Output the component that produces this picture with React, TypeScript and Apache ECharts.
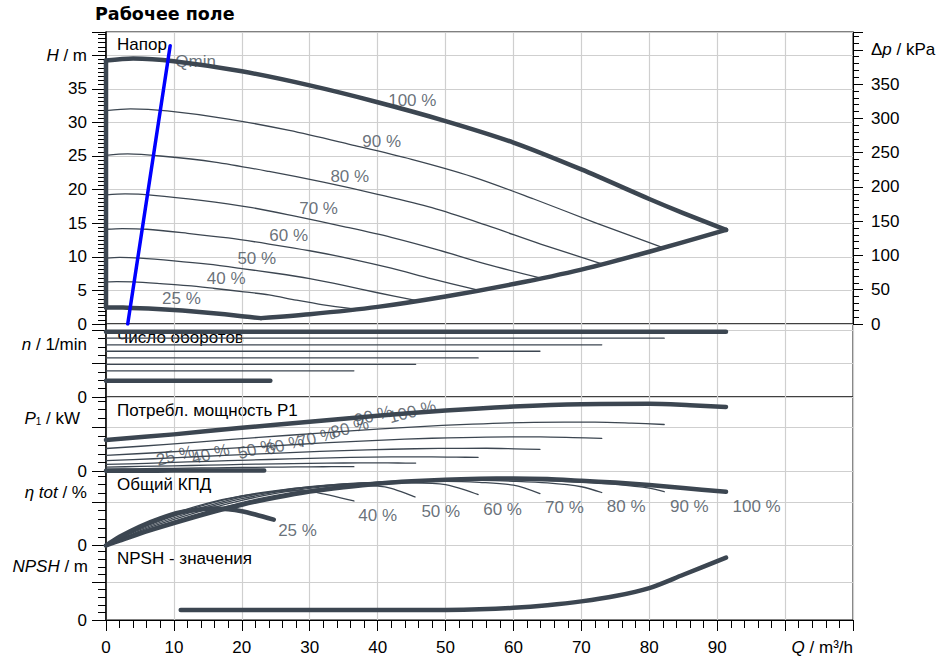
import React, { useEffect, useRef } from 'react';
import * as echarts from 'echarts';

// ---------- data ----------
const speedLabels = ['100 %', '90 %', '80 %', '70 %', '60 %', '50 %', '40 %', '25 %'];

// Head H [m] vs Q [m³/h]
const head100 = [[0, 39.2], [4, 39.5], [10, 39.1], [20, 37.6], [30, 35.5], [40, 33.0], [50, 30.2], [60, 27.0], [70, 23.0], [80, 18.6], [85, 16.5], [91.3, 14.0]];
const head90 = [[0, 31.75], [3.6, 32.0], [9, 31.7], [18, 30.5], [27, 28.8], [36, 26.7], [45, 24.5], [54, 21.9], [63, 18.6], [72, 15.1], [82.2, 11.3]];
const head80 = [[0, 25.1], [3.2, 25.3], [8, 25.0], [16, 24.1], [24, 22.7], [32, 21.1], [40, 19.3], [48, 17.3], [56, 14.7], [64, 11.9], [73, 8.96]];
const head70 = [[0, 19.2], [2.8, 19.35], [7, 19.15], [14, 18.4], [21, 17.4], [28, 16.0], [35, 14.5], [42, 12.9], [49, 11.0], [56, 8.9], [63.9, 6.86]];
const head60 = [[0, 14.1], [2.4, 14.2], [6, 14.1], [12, 13.5], [18, 12.8], [24, 11.9], [30, 10.9], [36, 9.7], [42, 8.3], [48, 6.7], [54.8, 5.04]];
const head50 = [[0, 9.8], [2, 9.9], [5, 9.8], [10, 9.4], [15, 8.9], [20, 8.25], [25, 7.55], [30, 6.75], [35, 5.75], [40, 4.65], [45.6, 3.5]];
const head40 = [[0, 6.27], [1.6, 6.32], [4, 6.26], [8, 6.0], [12, 5.7], [16, 5.28], [20, 4.83], [24, 4.32], [28, 3.55], [32, 2.85], [36.5, 2.24]];
const head25 = [[0, 2.45], [1, 2.47], [2.5, 2.44], [5, 2.35], [7.5, 2.23], [10, 2.08], [12.5, 1.9], [15, 1.69], [17.5, 1.44], [20, 1.16], [22.8, 0.875]];
const headLower = [[22.8, 0.875], [30, 1.45], [40, 2.55], [50, 4.1], [60, 5.95], [70, 8.1], [80, 10.75], [91.3, 14.0]];
const headLeft = [[0, 2.45], [0, 39.2]];
const qmin = [[3.2, 0], [9.45, 41.4]];
const headLabelPos = [[45.1, 33.3], [40.6, 27.2], [35.9, 21.9], [31.3, 17.2], [26.9, 13.1], [22.2, 9.8], [17.7, 6.8], [11.1, 3.8]];
const qminLabelPos = [13.2, 39.1];

// Speed n [1/min]
const speedValues = [2940, 2650, 2350, 2060, 1760, 1470, 1180, 735];
const speedEndQ = [91.3, 82.2, 73, 63.9, 54.8, 45.6, 36.5, 24.2];

// Power P1 [kW]
const pow100 = [[0, 3.57], [10, 4.2], [20, 4.95], [30, 5.62], [40, 6.3], [50, 6.9], [60, 7.35], [70, 7.62], [80, 7.66], [86, 7.5], [91.3, 7.3]];
const pow90 = [[0, 2.6], [9, 3.06], [18, 3.61], [27, 4.1], [36, 4.59], [45, 5.03], [54, 5.36], [63, 5.56], [72, 5.58], [77.4, 5.47], [82.2, 5.32]];
const pow80 = [[0, 1.83], [8, 2.15], [16, 2.53], [24, 2.88], [32, 3.23], [40, 3.53], [48, 3.76], [56, 3.9], [64, 3.92], [68.8, 3.84], [73, 3.74]];
const pow70 = [[0, 1.22], [7, 1.44], [14, 1.7], [21, 1.93], [28, 2.16], [35, 2.37], [42, 2.52], [49, 2.61], [56, 2.63], [60.2, 2.57], [63.9, 2.5]];
const pow60 = [[0, 0.8], [6, 0.93], [12, 1.08], [18, 1.22], [24, 1.36], [30, 1.49], [36, 1.59], [42, 1.65], [48, 1.66], [51.6, 1.62], [54.8, 1.6]];
const pow50 = [[0, 0.5], [5, 0.57], [10, 0.64], [15, 0.72], [20, 0.8], [25, 0.87], [30, 0.93], [35, 0.96], [40, 0.97], [43, 0.96], [45.6, 0.95]];
const pow40 = [[0, 0.26], [4, 0.3], [8, 0.34], [12, 0.38], [16, 0.42], [20, 0.46], [24, 0.49], [28, 0.52], [32, 0.54], [34.4, 0.55], [36.5, 0.55]];
const pow25 = [[0, 0.08], [5, 0.09], [10, 0.1], [15, 0.11], [20, 0.12], [23.3, 0.12]];
const powLabelPos = [[45.1, 6.76], [39.4, 6.31], [35.9, 4.92], [31.0, 3.82], [26.3, 3.0], [22.2, 2.55], [15.4, 1.98], [10.2, 1.79]];

// Total efficiency [%]
const eff100 = [[0, 0], [2, 4.5], [5, 11], [10, 20.5], [15, 29.5], [20, 37.5], [25, 44], [30, 49.5], [35, 53.5], [40, 56.8], [45, 59], [50, 60.5], [55, 61.3], [60, 61.6], [65, 61], [70, 59.4], [75, 57.8], [80, 55.6], [85, 52.8], [91.3, 49.3]];
const eff90 = [[0, 0], [2, 5], [5, 12.5], [10, 22.5], [15, 31.5], [20, 39.5], [25, 46], [30, 51], [35, 55], [40, 57.8], [45, 59.5], [50, 60.4], [55, 60.6], [60, 60.3], [65, 59.5], [70, 58.2], [75, 56.2], [80, 52.8], [82.2, 49.4]];
const eff80 = [[0, 0], [2, 5.5], [5, 13.5], [10, 24], [15, 33.5], [20, 41.5], [25, 47.8], [30, 52.5], [35, 56], [40, 58.3], [45, 59.6], [50, 60], [55, 59.8], [60, 59], [65, 57.5], [70, 54], [73, 48.7]];
const eff70 = [[0, 0], [2, 6], [5, 14.5], [10, 25.5], [15, 35], [20, 43], [25, 49], [30, 53.5], [35, 56.5], [40, 58.2], [45, 59], [50, 59], [55, 58], [60, 55.4], [63.9, 47.7]];
const eff60 = [[0, 0], [2, 6.5], [5, 15.5], [10, 27], [15, 36.5], [20, 44.5], [25, 50], [30, 54], [35, 56.5], [40, 57.6], [45, 57.6], [50, 56], [54.8, 46.8]];
const eff50 = [[0, 0], [2, 7], [5, 16.5], [10, 28.5], [15, 38], [20, 45.5], [25, 50.5], [30, 53.8], [35, 55.2], [40, 54.5], [42, 52.5], [45.5, 44.6]];
const eff40 = [[0, 0], [2, 7.5], [5, 17.5], [10, 29.5], [15, 39], [20, 45.5], [25, 49.5], [28, 50.3], [30.5, 49.2], [36.5, 40.9]];
const eff25 = [[0, 0], [2, 8], [5, 17.5], [8, 25], [11, 30.5], [14, 33.3], [16, 33.9], [18, 33.3], [20, 31.5], [22, 28.5], [24.7, 23.7]];
const effLabelPos = [[95.8, 35.6], [85.9, 35.6], [76.6, 35.6], [67.5, 34.7], [58.4, 33.2], [49.3, 31.0], [40, 27.3], [28.2, 14.2]];

// NPSH [m]
const npsh = [[11, 1.3], [20, 1.3], [30, 1.3], [40, 1.3], [50, 1.32], [55, 1.4], [60, 1.6], [65, 1.95], [70, 2.45], [75, 3.15], [80, 4.2], [85, 5.95], [91.3, 8.2]];

// axis ticks
const qTicks = [0, 10, 20, 30, 40, 50, 60, 70, 80, 90];

// ---------- styling ----------
const FONT = '"Liberation Sans", Arial, sans-serif';
const LINE = '#3c4651';
const LABEL = '#434d57';
const GRIDC = '#cfcfcf';

const headCurves = [head100, head90, head80, head70, head60, head50, head40, head25];
const powCurves = [pow100, pow90, pow80, pow70, pow60, pow50, pow40, pow25];
const effCurves = [eff100, eff90, eff80, eff70, eff60, eff50, eff40, eff25];

const isThick = (i: number) => i === 0 || i === 7;

function lineSeries(data: any, idx: number, width: number, smooth = true, color = LINE, z = 3) {
  return {
    type: 'line',
    xAxisIndex: idx,
    yAxisIndex: idx === 0 ? 0 : idx + 1,
    data,
    symbol: 'none',
    showSymbol: false,
    smooth: smooth ? 0.3 : false,
    silent: true,
    z,
    lineStyle: { color, width, cap: 'round', join: 'round' },
  };
}

function labelSeries(pos: number[][], names: string[], idx: number, rotate = 0) {
  return {
    type: 'scatter',
    xAxisIndex: idx,
    yAxisIndex: idx === 0 ? 0 : idx + 1,
    symbolSize: 0,
    silent: true,
    z: 1,
    data: pos.map((p, i) => ({ value: p, name: names[i] })),
    label: {
      show: true,
      position: 'inside',
      formatter: '{b}',
      color: LABEL,
      fontSize: 17,
      fontFamily: FONT,
      rotate,
    },
  };
}

const grids = [
  { top: 32, height: 292 },
  { top: 324, height: 73 },
  { top: 397, height: 74.5 },
  { top: 471.5, height: 74 },
  { top: 545.5, height: 74.5 },
];

export default function App() {
  const ref = useRef<HTMLDivElement>(null);
  useEffect(() => {
    if (!ref.current) return;
    const chart = echarts.init(ref.current, null, { renderer: 'svg' });

    const tickLabelStyle = { color: '#000', fontSize: 17, fontFamily: FONT };
    const yTick = { show: true, length: 14, lineStyle: { color: '#000', width: 1 } };
    const yMinor = (n: number) => ({ show: true, splitNumber: n, length: 8, lineStyle: { color: '#000', width: 1 } });

    const xAxes = grids.map((_, i) => {
      const last = i === grids.length - 1;
      return {
        type: 'value',
        gridIndex: i,
        min: 0,
        max: 110,
        interval: 10,
        splitLine: { show: true, lineStyle: { color: GRIDC, width: 1.2 } },
        axisLine: { show: last, onZero: false, lineStyle: { color: '#000', width: 1 } },
        axisTick: { show: last, length: 11, lineStyle: { color: '#000' } },
        minorTick: { show: last, splitNumber: 5, length: 8, lineStyle: { color: '#000' } },
        axisLabel: {
          show: last,
          margin: 19,
          ...tickLabelStyle,
          formatter: (v: number) => (qTicks.includes(v) ? String(v) : ''),
        },
      };
    });

    const smallY = (grid: number, max: number, interval: number, minor: number) => ({
      type: 'value',
      gridIndex: grid,
      min: 0,
      max,
      interval,
      axisLine: { show: true, onZero: false, lineStyle: { color: '#000', width: 1.5 } },
      axisTick: yTick,
      minorTick: yMinor(minor),
      splitLine: { show: true, lineStyle: { color: GRIDC, width: 1.2 } },
      axisLabel: { margin: 19, ...tickLabelStyle, formatter: (v: number) => (v === 0 ? '0' : '') },
    });

    const yAxes = [
      {
        type: 'value',
        gridIndex: 0,
        min: 0,
        max: 43.45,
        interval: 5,
        axisLine: { show: true, onZero: false, lineStyle: { color: '#000', width: 1.5 } },
        axisTick: yTick,
        minorTick: yMinor(8),
        splitLine: { show: true, lineStyle: { color: GRIDC, width: 1.2 } },
        axisLabel: {
          margin: 19,
          ...tickLabelStyle,
          formatter: (v: number) => (v === 40 ? '{i|H} / m' : v < 40 && v % 5 === 0 ? String(v) : ''),
          rich: { i: { fontStyle: 'italic', fontSize: 17, fontFamily: FONT, color: '#000' } },
        },
      },
      {
        type: 'value',
        gridIndex: 0,
        position: 'right',
        min: 0,
        max: 426,
        interval: 50,
        axisLine: { show: true, onZero: false, lineStyle: { color: '#000', width: 1 } },
        axisTick: { show: true, length: 10, lineStyle: { color: '#000' } },
        minorTick: { show: true, splitNumber: 5, length: 6, lineStyle: { color: '#000' } },
        splitLine: { show: false },
        axisLabel: {
          margin: 18,
          ...tickLabelStyle,
          formatter: (v: number) => (v === 400 ? 'Δ{i|p} / kPa' : v < 400 && v % 50 === 0 ? String(v) : ''),
          rich: { i: { fontStyle: 'italic', fontSize: 17, fontFamily: FONT, color: '#000' } },
        },
      },
      smallY(1, 3287, 1500, 4),
      smallY(2, 8.43, 5, 5),
      smallY(3, 68, 40, 5),
      smallY(4, 9.8, 5, 5),
    ];

    const series: any[] = [];
    // head panel
    headCurves.forEach((d, i) => series.push(lineSeries(d, 0, isThick(i) ? 4.5 : 1.3)));
    series.push(lineSeries(headLower, 0, 4.5));
    series.push(lineSeries(headLeft, 0, 4.5, false));
    series.push(lineSeries(qmin, 0, 3.5, false, '#0000ff', 4));
    series.push(labelSeries(headLabelPos, speedLabels, 0));
    series.push(labelSeries([qminLabelPos], ['Qmin'], 0));
    // speed panel
    speedValues.forEach((n, i) =>
      series.push(lineSeries([[0, n], [speedEndQ[i], n]], 1, isThick(i) ? 4.5 : 1.3, false)),
    );
    // power panel
    powCurves.forEach((d, i) => series.push(lineSeries(d, 2, isThick(i) ? 4.5 : 1.3)));
    series.push(labelSeries(powLabelPos, speedLabels, 2, 15));
    // efficiency panel
    effCurves.forEach((d, i) => series.push(lineSeries(d, 3, isThick(i) ? 4.5 : 1.3)));
    series.push(labelSeries(effLabelPos, speedLabels, 3));
    // npsh
    series.push(lineSeries(npsh, 4, 4.5));

    const txt = (text: string, x: number, y: number, align = 'left', extra: any = {}) => ({
      type: 'text',
      x,
      y,
      z: 0,
      silent: true,
      style: {
        text,
        fill: '#000',
        fontSize: 17,
        fontFamily: FONT,
        align,
        verticalAlign: 'middle',
        textAlign: align,
        textVerticalAlign: 'middle',
        rich: {
          i: { fontStyle: 'italic', fontSize: 17, fontFamily: FONT, fill: '#000', color: '#000' },
          s: { fontSize: 10, fontFamily: FONT, fill: '#000', color: '#000', verticalAlign: 'bottom' },
        },
        ...extra,
      },
    });

    const option: any = {
      animation: false,
      backgroundColor: '#fff',
      grid: grids.map((g) => ({
        left: 106,
        right: 91,
        top: g.top,
        height: g.height,
        show: true,
        borderColor: '#000',
        borderWidth: 1,
        backgroundColor: 'transparent',
        containLabel: false,
      })),
      xAxis: xAxes,
      yAxis: yAxes,
      series,
      graphic: [
        txt('Рабочее поле', 95, 14, 'left', { fontWeight: 'bold', fontFamily: '"DejaVu Sans", Verdana, sans-serif', fontSize: 17.5 }),
        txt('Напор', 117, 44),
        txt('Число оборотов', 117, 337),
        txt('Потребл. мощность P1', 117, 410.5),
        txt('Общий КПД', 117, 484.5),
        txt('NPSH - значения', 117, 558),
        txt('{i|n} / 1/min', 87, 344.5, 'right'),
        txt('{i|P}{s|1} / kW', 80, 418, 'right'),
        txt('{i|η tot} / %', 87, 492.5, 'right'),
        txt('{i|NPSH} / m', 88, 566, 'right'),
        txt('{i|Q} / m³/h', 853, 647, 'right'),
      ],
    };
    chart.setOption(option);
    return () => chart.dispose();
  }, []);

  return <div ref={ref} style={{ position: 'fixed', left: 0, top: 0, width: 944, height: 661 }} />;
}
